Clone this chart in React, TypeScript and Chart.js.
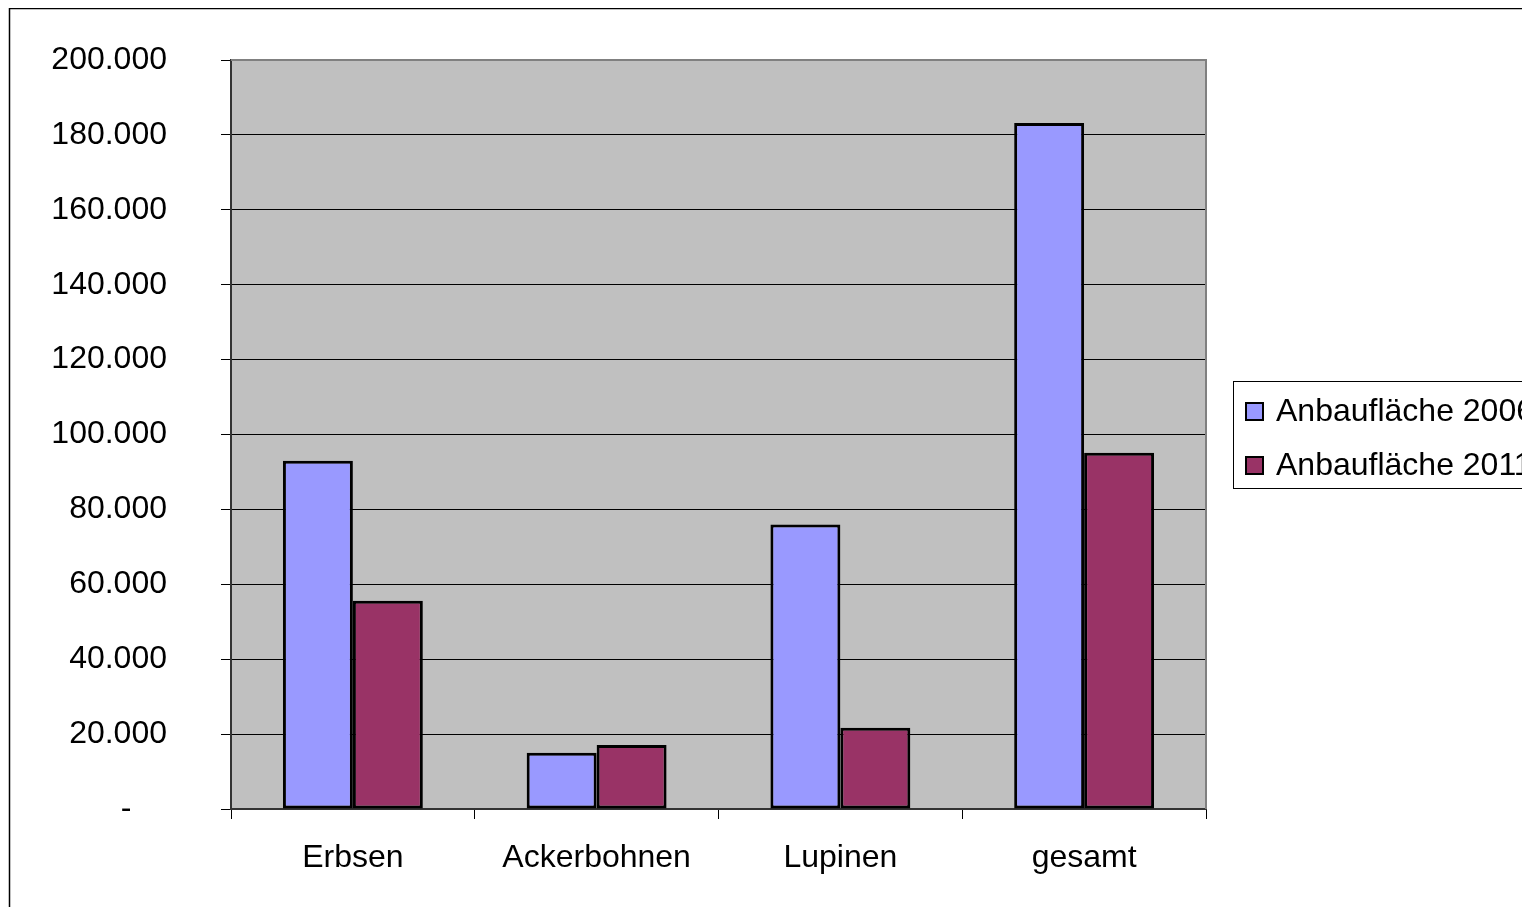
import React, { useEffect, useRef } from "react";
import { Chart, registerables } from "chart.js";

Chart.register(...registerables);

const categories = ["Erbsen", "Ackerbohnen", "Lupinen", "gesamt"];
const seriesLabels = ["Anbaufläche 2006", "Anbaufläche 2011"];
const values2006 = [93000, 15000, 76000, 183200];
const values2011 = [55600, 17100, 21700, 95100];
const seriesColors = ["#9999FF", "#993366"];
const yMax = 200000;
const yStep = 20000;

const FONT = "'Liberation Sans', Arial, sans-serif";

function fmt(v: number): string {
  if (v === 0) return "-    ";
  return String(Math.round(v)).replace(/\B(?=(\d{3})+(?!\d))/g, ".");
}

const bgPlugin = {
  id: "bgPlugin",
  beforeDraw(chart: any) {
    const { ctx, chartArea, width, height } = chart;
    ctx.save();
    ctx.fillStyle = "#ffffff";
    ctx.fillRect(0, 0, width, height);
    ctx.fillStyle = "#C0C0C0";
    ctx.fillRect(chartArea.left, chartArea.top, chartArea.right - chartArea.left, chartArea.bottom - chartArea.top);
    ctx.restore();
  },
  beforeDatasetsDraw(chart: any) {
    const { ctx, chartArea } = chart;
    ctx.save();
    ctx.strokeStyle = "#808080";
    ctx.lineWidth = 2;
    ctx.beginPath();
    ctx.moveTo(chartArea.left, chartArea.top);
    ctx.lineTo(chartArea.right, chartArea.top);
    ctx.lineTo(chartArea.right, chartArea.bottom);
    ctx.stroke();
    ctx.restore();
  },
  afterDraw(chart: any) {
    const { ctx } = chart;
    ctx.save();
    // outer frame
    ctx.strokeStyle = "#000000";
    ctx.lineWidth = 1.5;
    ctx.strokeRect(1.5, 0.5, 3000, 3000);
    // legend
    ctx.strokeStyle = "#000000";
    ctx.lineWidth = 1;
    ctx.strokeRect(1225.5, 373.5, 600, 107);
    ctx.font = `32px ${FONT}`;
    ctx.textBaseline = "middle";
    ctx.textAlign = "left";
    const ys = [403, 457];
    chart.data.datasets.forEach((ds: any, i: number) => {
      const y = ys[i];
      ctx.fillStyle = ds.backgroundColor;
      ctx.fillRect(1238, y - 8, 17, 17);
      ctx.strokeStyle = "#000000";
      ctx.lineWidth = 2;
      ctx.strokeRect(1238, y - 8, 17, 17);
      ctx.fillStyle = "#000000";
      ctx.fillText(ds.label, 1268, y + 1);
    });
    ctx.restore();
  },
};

export default function App() {
  const ref = useRef<HTMLCanvasElement>(null);
  useEffect(() => {
    document.documentElement.style.overflow = "hidden";
    document.body.style.overflow = "hidden";
    const chart = new Chart(ref.current!, {
      type: "bar",
      data: {
        labels: categories,
        datasets: [
          {
            label: seriesLabels[0],
            data: values2006,
            backgroundColor: seriesColors[0],
            borderColor: "#000000",
            borderWidth: 3,
            borderSkipped: false,
          },
          {
            label: seriesLabels[1],
            data: values2011,
            backgroundColor: seriesColors[1],
            borderColor: "#000000",
            borderWidth: 3,
            borderSkipped: false,
          },
        ],
      },
      options: {
        animation: false,
        responsive: false,
        maintainAspectRatio: false,
        layout: { padding: { left: 0, right: 324, top: 52, bottom: 0 } },
        plugins: {
          legend: { display: false },
          tooltip: { enabled: false },
        },
        datasets: {
          bar: { categoryPercentage: 0.574, barPercentage: 1 },
        },
        scales: {
          x: {
            offset: true,
            grid: {
              offset: true,
              drawOnChartArea: false,
              drawTicks: true,
              tickLength: 10,
              color: "#000000",
            },
            border: { display: true, color: "#333333", width: 2 },
            ticks: {
              color: "#000000",
              font: { family: FONT, size: 32 },
              padding: 20,
              maxRotation: 0,
            },
            afterFit(scale: any) {
              scale.height = 98;
              scale.paddingLeft = 0;
              scale.paddingRight = 0;
            },
          },
          y: {
            min: 0,
            max: yMax,
            grid: {
              color: "#000000",
              lineWidth: 1,
              drawTicks: true,
              tickLength: 10,
            },
            border: { display: true, color: "#333333", width: 2 },
            ticks: {
              stepSize: yStep,
              color: "#000000",
              font: { family: FONT, size: 32 },
              padding: 54,
              callback: (v: any) => fmt(Number(v)),
            },
            afterFit(scale: any) {
              scale.width = 223;
              scale.paddingTop = 0;
              scale.paddingBottom = 0;
            },
          },
        },
      },
      plugins: [bgPlugin],
    });
    return () => chart.destroy();
  }, []);
  return (
    <canvas ref={ref} width={1522} height={899} style={{ display: "block", width: 1522, height: 899 }} />
  );
}
